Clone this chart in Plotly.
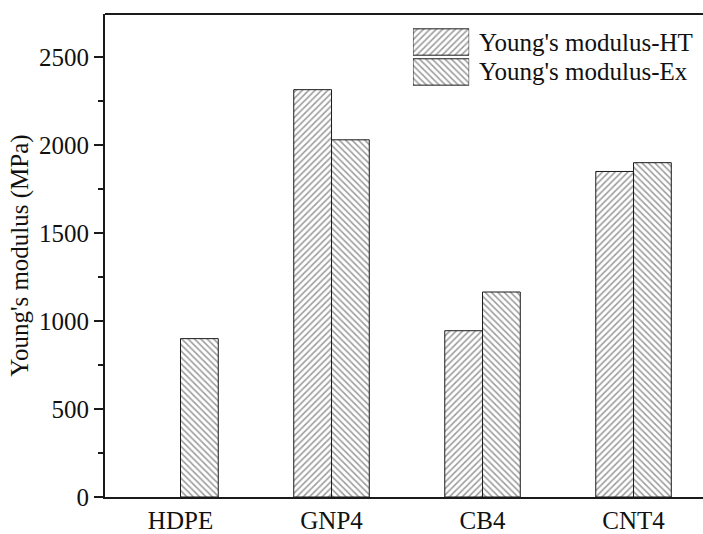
import plotly.graph_objects as go

# Young's modulus of the composites, two test methods
categories = ["HDPE", "GNP4", "CB4", "CNT4"]
modulus_ht = [None, 2315, 945, 1850]
modulus_ex = [900, 2030, 1165, 1900]
series_names = ["Young's modulus-HT", "Young's modulus-Ex"]
y_ticks = [0, 500, 1000, 1500, 2000, 2500]

FONT = "Liberation Serif, Times New Roman, serif"
LINE = "#1a1a1a"
HATCH = "#3a3a3a"
FS = 25

def pattern(shape):
    return dict(shape=shape, fgcolor=HATCH, bgcolor="white", size=4.5, solidity=0.35)

fig = go.Figure()
for name, vals, shp in [(series_names[0], modulus_ht, "/"), (series_names[1], modulus_ex, "\\")]:
    fig.add_trace(go.Bar(
        x=categories, y=vals, name=name,
        marker=dict(color="white", pattern=pattern(shp), line=dict(color=LINE, width=1)),
        showlegend=False,
    ))

# Legend keys: hatched boxes on a small inset axis, with text labels beside them
for i, (name, shp) in enumerate([(series_names[0], "/"), (series_names[1], "\\")]):
    fig.add_trace(go.Bar(
        x=[1], y=[1 - i], orientation="h", width=0.88,
        marker=dict(color="white", pattern=pattern(shp), line=dict(color=LINE, width=1)),
        xaxis="x2", yaxis="y2", showlegend=False, hoverinfo="skip",
    ))
    fig.add_annotation(
        xref="paper", yref="y2", x=0.622, y=1 - i, text=name, showarrow=False,
        xanchor="left", yanchor="middle", font=dict(family=FONT, size=FS, color="#111"),
    )

fig.update_layout(
    width=703, height=534,
    margin=dict(l=105, r=0, t=14, b=35),
    paper_bgcolor="white", plot_bgcolor="white",
    barmode="group", bargap=0.5, bargroupgap=0,
    font=dict(family=FONT, size=FS, color="#111"),
    xaxis=dict(
        range=[-0.5, 3.46], showline=True, linecolor=LINE, linewidth=2, mirror=False,
        ticks="", showgrid=False, zeroline=False, tickfont=dict(size=FS),
    ),
    yaxis=dict(
        range=[0, 2745], tickvals=y_ticks, showline=True, linecolor=LINE, linewidth=2,
        ticks="outside", ticklen=9, tickwidth=2, tickcolor=LINE,
        minor=dict(dtick=250, ticks="outside", ticklen=5, tickwidth=2, tickcolor=LINE),
        showgrid=False, zeroline=False, tickfont=dict(size=FS),
        title=dict(text="Young's modulus (MPa)", font=dict(size=FS), standoff=3),
    ),
    xaxis2=dict(domain=[0.515, 0.609], range=[0, 1], visible=False, anchor="y2"),
    yaxis2=dict(domain=[0.849, 0.973], range=[-0.5, 1.5], visible=False, anchor="x2"),
    shapes=[dict(type="line", xref="paper", yref="paper", x0=0, x1=1, y0=1, y1=1,
                 line=dict(color=LINE, width=2))],
)

fig.write_html("out.html")
